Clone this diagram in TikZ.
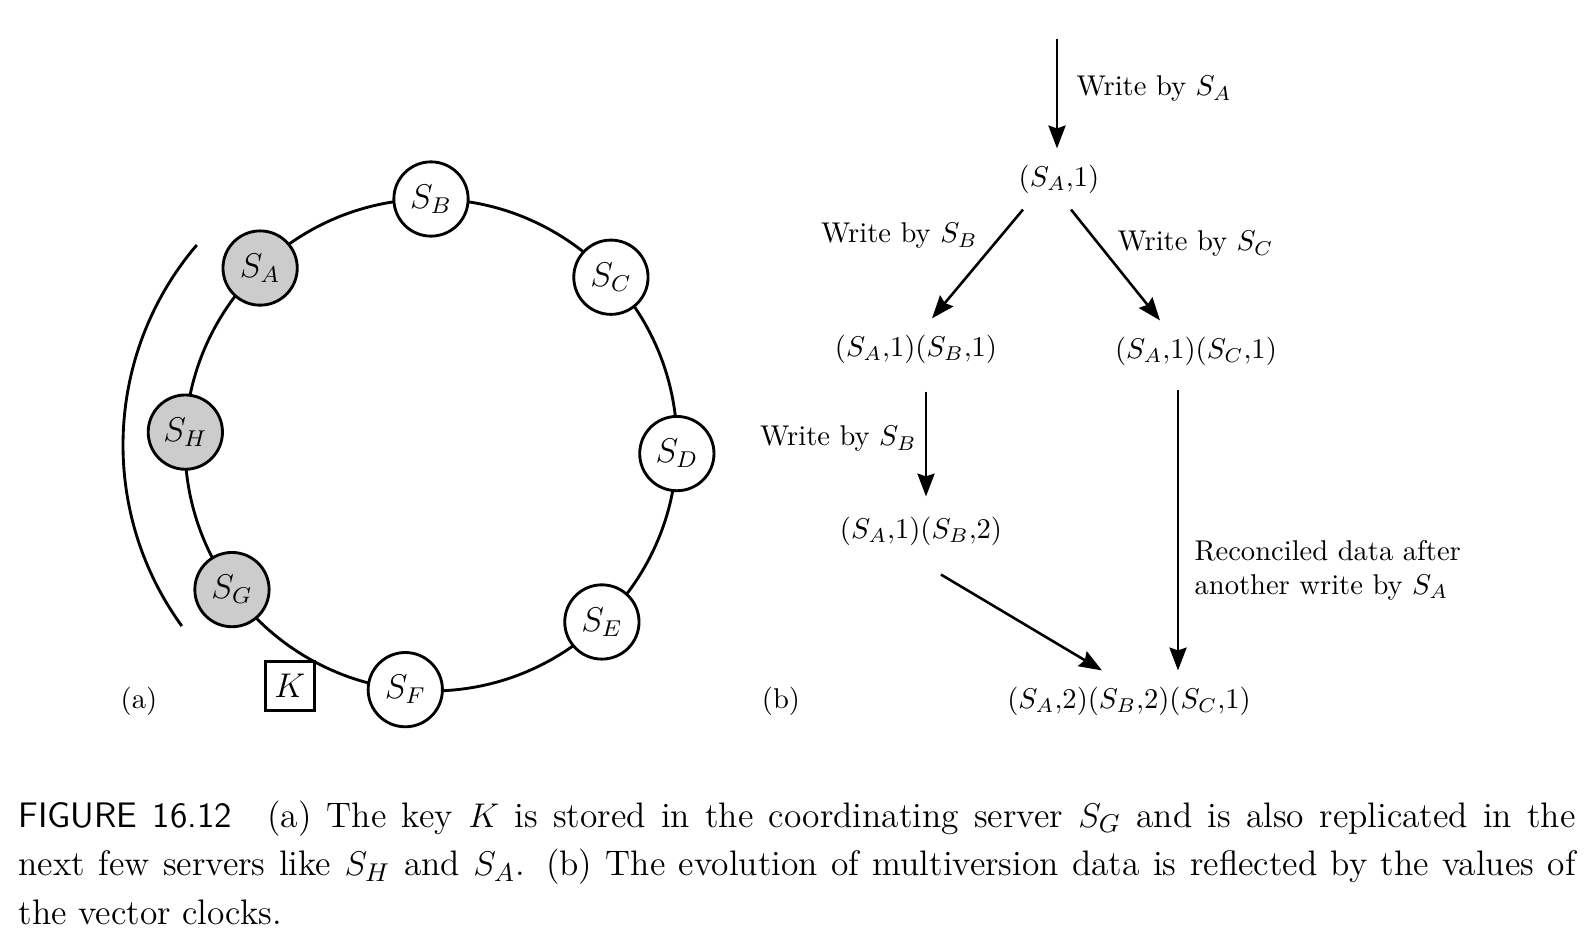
\documentclass[tikz,border=0pt]{standalone}
\usepackage{tikz}
\usetikzlibrary{arrows.meta,calc}

\begin{document}
\begin{tikzpicture}[x=0.35pt, y=0.35pt,
	server/.style={circle, draw, line width=1pt, minimum size=26pt, inner sep=0pt, font=\large},
	clock/.style={inner xsep=4pt, inner ysep=5.5pt},
	arr/.style={line width=0.9pt, -{Stealth[length=8pt, width=6pt, inset=1pt]}},
	note/.style={inner sep=0pt, align=left}]
	\newcommand\ringr{246}

	\useasboundingbox (0, 0) rectangle (1592, 940);

	% 画环
	\coordinate (ring) at (431, 495);
	\draw[line width=1pt] (ring) circle (\ringr);

	% 环上的服务器, 灰色的是保存副本的
	\foreach \name/\ang/\col in {A/134/gray!40, B/90/white, C/43/white, D/-2/white,
			E/-46/white, F/-96/white, G/216/gray!40, H/177/gray!40}
		\node[server, fill=\col] (s\name) at ($(ring) + (\ang: \ringr)$) {$S_\name$};

	% 左侧的弧
	\draw[line width=1pt] ($(ring) + (139.5: 308)$) arc (139.5: 216: 308);

	% 键 K
	\node[draw, line width=1pt, minimum size=17pt, inner sep=0pt, font=\large] (key) at (290, 254) {$K$};

	% 子图标号
	\node (lbla) at (139, 239) {(a)};
	\node (lblb) at (781, 239) {(b)};

	% 向量时钟
	\coordinate (wtop) at (1057, 901);
	\node[clock] (sa1) at (1059, 761) {$(S_A{,}1)$};
	\node[clock] (sa1sb1) at (916, 591) {$(S_A{,}1)(S_B{,}1)$};
	\node[clock] (sa1sc1) at (1196, 589) {$(S_A{,}1)(S_C{,}1)$};
	\node[clock] (sa1sb2) at (921, 409) {$(S_A{,}1)(S_B{,}2)$};
	\node[clock] (final) at (1129, 239) {$(S_A{,}2)(S_B{,}2)(S_C{,}1)$};

	% 箭头
	\draw[arr] (wtop) -- (wtop |- sa1.north);
	\draw[arr] ($(sa1.south) + (-36, 0)$) -- ($(sa1sb1.north) + (16, 0)$);
	\draw[arr] ($(sa1.south) + (12, 0)$) -- ($(sa1sc1.north) + (-36, 0)$);
	\draw[arr] ($(sa1sb1.south) + (10, -12)$) -- ($(sa1sb1.south |- sa1sb2.north) + (10, 4)$);
	\draw[arr] ($(sa1sb2.south) + (20, -13)$) -- ($(final.north) + (-27, 0)$);
	\draw[arr] ($(sa1sc1.south) + (-18, -8)$) -- ($(sa1sc1.south |- final.north) + (-18, 0)$);

	% 箭头上的文字
	\node[note, anchor=west] (wa) at (1076, 851) {Write by $S_A$};
	\node[note, anchor=east] (wb) at (978, 704) {Write by $S_B$};
	\node[note, anchor=west] (wc) at (1117, 696) {Write by $S_C$};
	\node[note, anchor=east] (wb2) at (917, 501) {Write by $S_B$};
	\node[note, anchor=west] (rec) at (1194, 370) {Reconciled data after\\another write by $S_A$};

	% 图注
	\node[inner sep=0pt, anchor=north west, text width=545pt, align=justify,
		font=\fontsize{12.4}{17}\selectfont] (caption) at (18, 140)
		{\textsf{FIGURE 16.12}\quad (a) The key $K$ is stored in the coordinating server $S_G$ and is also replicated in the\linebreak
		next few servers like $S_H$ and $S_A$. (b) The evolution of multiversion data is reflected by the values of\linebreak
		the vector clocks.};
\end{tikzpicture}
\end{document}
